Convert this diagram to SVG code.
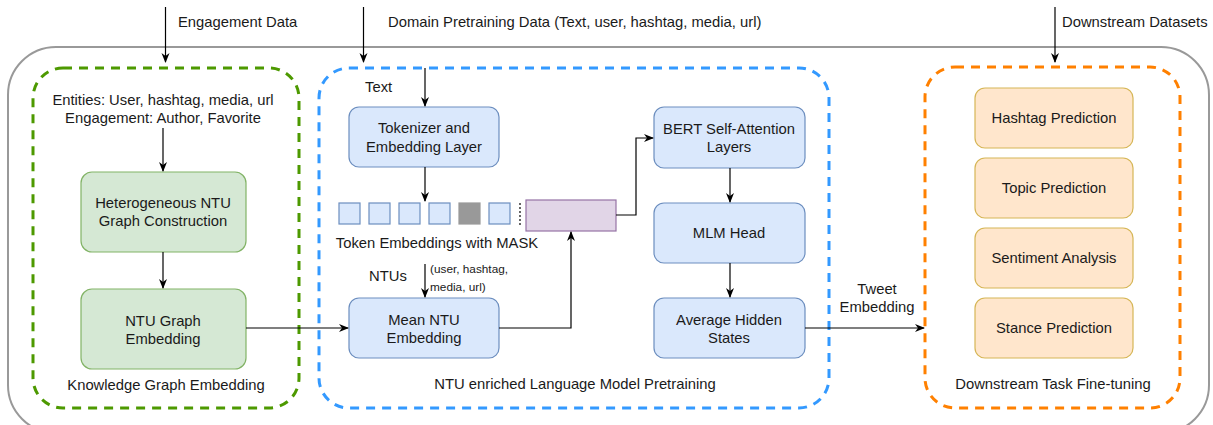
<svg xmlns="http://www.w3.org/2000/svg" width="1213" height="425" viewBox="0 0 1213 425">
<defs>
<style>
text{font-family:"Liberation Sans",Arial,sans-serif;font-size:14.8px;fill:#1a1a1a}
.c{text-anchor:middle}
.s{font-size:11.8px}
.cont{fill:none;stroke-width:3;stroke-dasharray:9 7}
.g{fill:#d5e8d4;stroke:#82b366;stroke-width:1.2}
.b{fill:#dae8fc;stroke:#6c8ebf;stroke-width:1.2}
.o{fill:#ffe6cc;stroke:#d6b656;stroke-width:1.2}
.tok{fill:#dae8fc;stroke:#6c8ebf;stroke-width:1.2}
.e{fill:none;stroke:#000;stroke-width:1.2}
</style>
<marker id="ah" viewBox="0 0 10 10" refX="9" refY="5" markerWidth="10" markerHeight="10" markerUnits="userSpaceOnUse" orient="auto">
<path d="M0,1 L10,5 L0,9 L3,5 z" fill="#000"/>
</marker>
</defs>
<rect width="1213" height="425" fill="#fff"/>

<g id="outer">
<rect x="8" y="47" width="1201" height="386" rx="48" fill="none" stroke="#999" stroke-width="2"/>
</g>

<g id="kg-container">
<rect class="cont" x="33" y="68" width="266" height="340" rx="30" stroke="#4d9900"/>
<text class="c" x="166" y="390">Knowledge Graph Embedding</text>
</g>
<g id="lm-container">
<rect class="cont" x="319" y="68" width="510" height="340" rx="30" stroke="#3399ff"/>
<text class="c" x="575" y="389">NTU enriched Language Model Pretraining</text>
</g>
<g id="ft-container">
<rect class="cont" x="925" y="67" width="255" height="341" rx="30" stroke="#ff8000"/>
<text class="c" x="1053" y="389">Downstream Task Fine-tuning</text>
</g>

<g id="labels">
<text x="178" y="27">Engagement Data</text>
<text x="388" y="27">Domain Pretraining Data (Text, user, hashtag, media, url)</text>
<text x="1062" y="27">Downstream Datasets</text>
<text class="c" x="163" y="105">Entities: User, hashtag, media, url</text>
<text class="c" x="163" y="123">Engagement: Author, Favorite</text>
<text x="365" y="92">Text</text>
<text class="c" x="437" y="248">Token Embeddings with MASK</text>
<text class="c" x="388" y="281">NTUs</text>
<text class="s" x="430" y="273">(user, hashtag,</text>
<text class="s" x="430" y="291">media, url)</text>
<text class="c" x="877" y="294">Tweet</text>
<text class="c" x="877" y="312">Embedding</text>
</g>

<g id="hetero-graph">
<rect class="g" x="81" y="172" width="165" height="80" rx="11"/>
<text class="c" x="163" y="208">Heterogeneous NTU</text>
<text class="c" x="163" y="226">Graph Construction</text>
</g>
<g id="ntu-graph-emb">
<rect class="g" x="81" y="289" width="165" height="80" rx="11"/>
<text class="c" x="163" y="326">NTU Graph</text>
<text class="c" x="163" y="344">Embedding</text>
</g>

<g id="tokenizer">
<rect class="b" x="349" y="107" width="150" height="60" rx="10"/>
<text class="c" x="424" y="133">Tokenizer and</text>
<text class="c" x="424" y="152">Embedding Layer</text>
</g>
<g id="tokens">
<rect class="tok" x="339" y="203" width="21" height="21"/>
<rect class="tok" x="369" y="203" width="21" height="21"/>
<rect class="tok" x="399" y="203" width="21" height="21"/>
<rect class="tok" x="429" y="203" width="21" height="21"/>
<rect x="459" y="203" width="21" height="21" fill="#999" stroke="#999" stroke-width="1.2"/>
<rect class="tok" x="489" y="203" width="21" height="21"/>
<line x1="520" y1="203" x2="520" y2="225" stroke="#000" stroke-width="1.2" stroke-dasharray="2 2"/>
</g>
<g id="masked-emb">
<rect x="526" y="200" width="90" height="31" fill="#e1d5e7" stroke="#9673a6" stroke-width="1.2"/>
</g>
<g id="mean-ntu">
<rect class="b" x="349" y="298" width="150" height="60" rx="10"/>
<text class="c" x="424" y="325">Mean NTU</text>
<text class="c" x="424" y="343">Embedding</text>
</g>
<g id="bert">
<rect class="b" x="654" y="107" width="151" height="61" rx="10"/>
<text class="c" x="729" y="134">BERT Self-Attention</text>
<text class="c" x="729" y="152">Layers</text>
</g>
<g id="mlm">
<rect class="b" x="654" y="203" width="151" height="60" rx="10"/>
<text class="c" x="729" y="238">MLM Head</text>
</g>
<g id="avg-hidden">
<rect class="b" x="654" y="298" width="151" height="60" rx="10"/>
<text class="c" x="729" y="325">Average Hidden</text>
<text class="c" x="729" y="343">States</text>
</g>

<g id="hashtag">
<rect class="o" x="975" y="88" width="158" height="60" rx="10"/>
<text class="c" x="1054" y="123">Hashtag Prediction</text>
</g>
<g id="topic">
<rect class="o" x="975" y="158" width="158" height="60" rx="10"/>
<text class="c" x="1054" y="193">Topic Prediction</text>
</g>
<g id="sentiment">
<rect class="o" x="975" y="228" width="158" height="60" rx="10"/>
<text class="c" x="1054" y="263">Sentiment Analysis</text>
</g>
<g id="stance">
<rect class="o" x="975" y="298" width="158" height="60" rx="10"/>
<text class="c" x="1054" y="333">Stance Prediction</text>
</g>

<g id="connectors">
<path class="e" d="M165.5,7 V62" marker-end="url(#ah)"/>
<path class="e" d="M363.5,7 V62" marker-end="url(#ah)"/>
<path class="e" d="M1055,7 V62" marker-end="url(#ah)"/>
<path class="e" d="M163,128 V171" marker-end="url(#ah)"/>
<path class="e" d="M163,252 V288" marker-end="url(#ah)"/>
<path class="e" d="M246,328 H348" marker-end="url(#ah)"/>
<path class="e" d="M425,68 V106" marker-end="url(#ah)"/>
<path class="e" d="M425,167 V201" marker-end="url(#ah)"/>
<path class="e" d="M425,264 V297" marker-end="url(#ah)"/>
<path class="e" d="M499,328 H571 V232" marker-end="url(#ah)"/>
<path class="e" d="M616,215 H636 V138 H653" marker-end="url(#ah)"/>
<path class="e" d="M730,168 V202" marker-end="url(#ah)"/>
<path class="e" d="M730,263 V297" marker-end="url(#ah)"/>
<path class="e" d="M805,328 H924" marker-end="url(#ah)"/>
</g>
</svg>
